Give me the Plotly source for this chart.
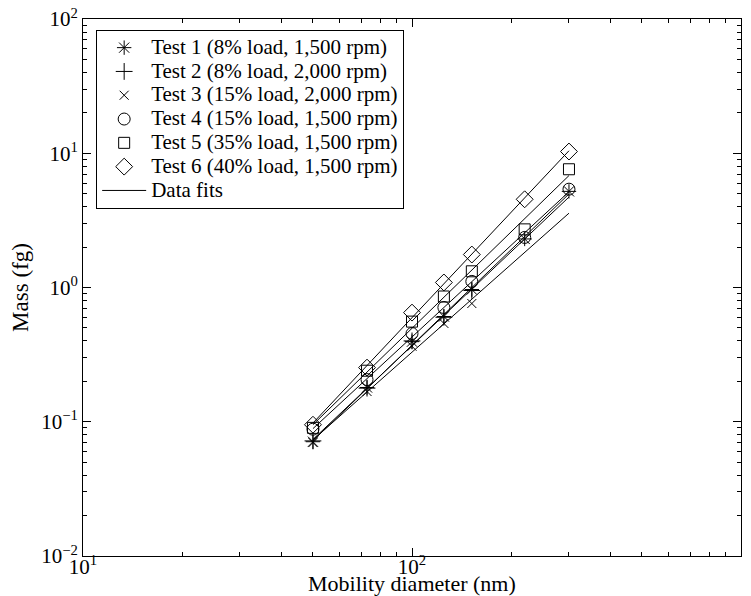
import numpy as np
import plotly.graph_objects as go

# Mobility diameters (nm)
diam = [50, 73, 100, 125, 152, 220, 300]

# Mass (fg) for each test
test1 = [0.071, 0.18, 0.395, 0.608, 0.966, 2.3, 5.2]
test2 = [0.072, 0.178, 0.40, 0.60, 0.95]
test3 = [0.07, 0.168, 0.365, 0.54, 0.76]
test4 = [0.088, 0.206, 0.454, 0.71, 1.11, 2.36, 5.4]
test5 = [0.09, 0.24, 0.557, 0.857, 1.32, 2.71, 7.6]
test6 = [0.095, 0.253, 0.65, 1.09, 1.76, 4.54, 10.3]

names = [
    "Test 1 (8% load, 1,500 rpm)",
    "Test 2 (8% load, 2,000 rpm)",
    "Test 3 (15% load, 2,000 rpm)",
    "Test 4 (15% load, 1,500 rpm)",
    "Test 5 (35% load, 1,500 rpm)",
    "Test 6 (40% load, 1,500 rpm)",
]
fit_name = "Data fits"
series = [test1, test2, test3, test4, test5, test6]
symbols = ["asterisk-open", "cross-thin-open", "x-thin-open",
           "circle-open", "square-open", "diamond-open"]
sizes = [12, 12, 9, 12, 11, 13]

fit_range = [50, 300]

xtick_vals = [10, 100, 1000]
xtick_text = ["10<sup>1</sup>", "10<sup>2</sup>", "10<sup>3</sup>"]
ytick_vals = [0.01, 0.1, 1, 10, 100]
ytick_text = ["10<sup>\u22122</sup>", "10<sup>\u22121</sup>", "10<sup>0</sup>",
              "10<sup>1</sup>", "10<sup>2</sup>"]

FONT = "Liberation Serif"
LEG = '<span style="font-size:21px">{}</span>'

fig = go.Figure()

for nm, ys, sym, sz in zip(names, series, symbols, sizes):
    fig.add_trace(go.Scatter(
        x=diam[:len(ys)], y=ys, mode="markers", name=LEG.format(nm),
        marker=dict(symbol=sym, size=sz, color="black",
                    line=dict(color="black", width=1)),
    ))

# power-law fits (straight lines in log-log space)
xf = np.array(fit_range, dtype=float)
for i, ys in enumerate(series):
    lx = np.log10(diam[:len(ys)])
    ly = np.log10(ys)
    b, a = np.polyfit(lx, ly, 1)
    yf = 10 ** (a + b * np.log10(xf))
    fig.add_trace(go.Scatter(
        x=xf, y=yf, mode="lines", name=LEG.format(fit_name),
        line=dict(color="black", width=1),
        showlegend=(i == 0),
    ))

axis_common = dict(
    type="log", showgrid=False, zeroline=False, automargin=False,
    showline=True, linecolor="black", linewidth=1, mirror="ticks",
    ticks="inside", ticklen=8, tickcolor="black", tickwidth=1,
    tickfont=dict(family=FONT, size=21, color="black"),
    minor=dict(ticks="inside", ticklen=4, tickcolor="black", dtick="D1",
               showgrid=False),
)

fig.update_xaxes(range=[1, 3], tickvals=xtick_vals, ticktext=xtick_text,
                 ticklabelstandoff=-8, **axis_common)
fig.update_yaxes(range=[-2, 2], tickvals=ytick_vals, ticktext=ytick_text,
                 title=dict(text="Mass (fg)", standoff=6,
                            font=dict(family=FONT, size=23, color="black")),
                 **axis_common)

fig.add_annotation(
    text="Mobility diameter (nm)", xref="paper", yref="paper",
    x=0.5, y=-0.052, xanchor="center", yanchor="middle", showarrow=False,
    font=dict(family=FONT, size=22, color="black"),
)

fig.update_layout(
    width=751, height=596,
    margin=dict(l=83, r=10, t=19, b=40),
    paper_bgcolor="white", plot_bgcolor="white",
    font=dict(family=FONT, color="black"),
    legend=dict(
        x=0.02, y=0.98, xanchor="left", yanchor="top",
        bgcolor="white", bordercolor="black", borderwidth=1,
        font=dict(family=FONT, size=16, color="black"),
        tracegroupgap=0, itemwidth=44,
    ),
)

fig.write_html("out.html")
